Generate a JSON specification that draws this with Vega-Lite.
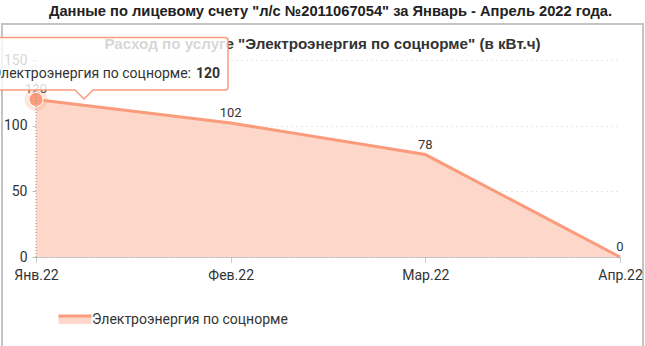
{
  "$schema": "https://vega.github.io/schema/vega-lite/v6.json",
  "width": 641,
  "height": 330,
  "autosize": {"type": "none"},
  "padding": {"left": 2, "top": 24, "right": 2, "bottom": 0},
  "background": "white",
  "title": {
    "text": "Данные по лицевому счету \"л/с №2011067054\" за Январь - Апрель 2022 года.",
    "anchor": "middle",
    "frame": "group",
    "font": "Liberation Sans",
    "fontSize": 14.7,
    "fontWeight": "bold",
    "color": "#222222",
    "offset": 5,
    "dx": 8
  },
  "config": {
    "view": {"stroke": "#c4c4c4", "strokeWidth": 2},
    "font": "Roboto"
  },
  "data": {
    "values": [
      {"month": "Янв.22", "value": 120, "series": "Электроэнергия по соцнорме"},
      {"month": "Фев.22", "value": 102, "series": "Электроэнергия по соцнорме"},
      {"month": "Мар.22", "value": 78, "series": "Электроэнергия по соцнорме"},
      {"month": "Апр.22", "value": 0, "series": "Электроэнергия по соцнорме"}
    ]
  },
  "encoding": {
    "x": {
      "field": "month",
      "type": "ordinal",
      "sort": null,
      "scale": {"type": "point", "range": [34, 618], "padding": 0},
      "axis": {
        "title": null,
        "labelAngle": 0,
        "labelFont": "Roboto",
        "labelFontSize": 14,
        "labelColor": "#333333",
        "tickSize": 5,
        "tickColor": "#999999",
        "tickDash": [1, 1],
        "domainColor": "#999999",
        "domainDash": [1, 1],
        "labelPadding": 6,
        "offset": -97,
        "zindex": 1,
        "grid": false
      }
    },
    "y": {
      "field": "value",
      "type": "quantitative",
      "scale": {"domain": [0, 150], "range": [233, 36], "nice": false, "zero": true},
      "axis": {
        "title": "Расход по услуге \"Электроэнергия по соцнорме\" (в кВт.ч)",
        "titleAngle": 0,
        "titleX": 286,
        "titleY": 19,
        "titleAlign": "center",
        "titleBaseline": "middle",
        "titleFont": "Liberation Sans",
        "titleFontSize": 15.2,
        "titleFontWeight": "bold",
        "titleColor": "#333333",
        "values": [0, 50, 100, 150],
        "labelFont": "Roboto",
        "labelFontSize": 14,
        "labelColor": "#333333",
        "tickSize": 4,
        "tickColor": "#bbbbbb",
        "labelPadding": 5,
        "domain": false,
        "grid": true,
        "gridColor": "#cccccc",
        "gridDash": [1, 4],
        "offset": -34,
        "zindex": 0
      }
    }
  },
  "layer": [
    {
      "mark": {"type": "area", "opacity": 1},
      "encoding": {
        "fill": {
          "field": "series",
          "type": "nominal",
          "scale": {"range": ["#FDD8CA"]},
          "legend": {
            "orient": "none",
            "legendX": 55,
            "legendY": 278,
            "title": null,
            "padding": 0,
            "symbolType": "M-1,-0.24H1V0.24H-1Z",
            "symbolSize": 1089,
            "symbolStrokeColor": "#FA9B7B",
            "symbolStrokeWidth": 3,
            "symbolDash": [33, 200],
            "symbolOpacity": 1,
            "labelFont": "Roboto",
            "labelFontSize": 14,
            "labelColor": "#333333",
            "labelOffset": -1,
            "labelLimit": 400,
            "encode": {
              "symbols": {
                "update": {
                  "stroke": {"value": "#FA9B7B"},
                  "strokeWidth": {"value": 3},
                  "strokeDash": {"value": [33, 200]}
                }
              }
            }
          }
        }
      }
    },
    {
      "mark": {"type": "line", "color": "#FA9B7B", "strokeWidth": 3}
    },
    {
      "mark": {"type": "text", "dy": -10, "font": "Roboto", "fontSize": 13, "color": "#333333"},
      "encoding": {"text": {"field": "value", "type": "quantitative"}}
    },
    {
      "transform": [{"filter": "datum.month === 'Янв.22'"}],
      "mark": {"type": "point", "filled": true, "size": 531, "color": "#FA9B7B", "opacity": 0.25}
    },
    {
      "transform": [{"filter": "datum.month === 'Янв.22'"}],
      "mark": {"type": "point", "filled": true, "size": 201, "fill": "#FA9B7B", "stroke": "#ffffff", "strokeWidth": 1, "opacity": 1}
    },
    {
      "transform": [{"filter": "datum.month === 'Янв.22'"}],
      "mark": {"type": "rule", "color": "#999999", "strokeDash": [1, 2], "strokeWidth": 1},
      "encoding": {"y": {"datum": 0}, "y2": {"datum": 150}}
    },
    {
      "transform": [{"filter": "datum.month === 'Янв.22'"}],
      "mark": {
        "type": "point",
        "filled": true,
        "size": 40000,
        "shape": "M-0.48,-0.62H1.89Q1.92,-0.62 1.92,-0.59V-0.124Q1.92,-0.094 1.89,-0.094H0.57L0.48,-0.004L0.39,-0.094H-0.48Q-0.51,-0.094 -0.51,-0.124V-0.59Q-0.51,-0.62 -0.48,-0.62Z",
        "fill": "#ffffff",
        "fillOpacity": 0.8,
        "stroke": "#FA9B7B",
        "strokeWidth": 1.5,
        "opacity": 1
      }
    },
    {
      "transform": [{"filter": "datum.month === 'Янв.22'"}],
      "mark": {"type": "text", "align": "right", "baseline": "middle", "dx": 155, "dy": -25, "font": "Roboto", "fontSize": 14, "color": "#333333"},
      "encoding": {"text": {"value": "Электроэнергия по соцнорме:"}}
    },
    {
      "transform": [{"filter": "datum.month === 'Янв.22'"}],
      "mark": {"type": "text", "align": "left", "baseline": "middle", "dx": 160, "dy": -25, "font": "Roboto", "fontSize": 14, "fontWeight": "bold", "color": "#333333"},
      "encoding": {"text": {"field": "value", "type": "quantitative"}}
    }
  ]
}
